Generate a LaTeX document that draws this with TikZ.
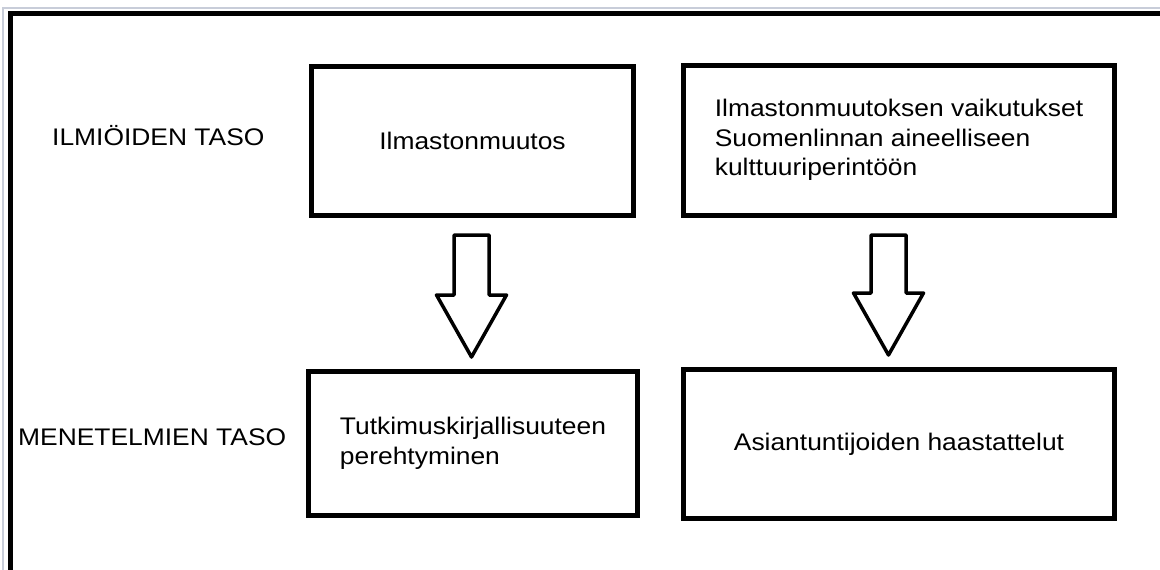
\documentclass[tikz,border=0pt]{standalone}
\usepackage{fontspec}
\setmainfont[FakeStretch=1.1]{Liberation Sans}
\usetikzlibrary{calc}
\definecolor{edge}{HTML}{c8cdd9}

% hollow block arrow from one box down to the next
\newcommand\hollowarrow[3]{%
  \coordinate (arrtop) at ($(#1.south)+(#3,17)$);
  \coordinate (arrtip) at ($(#2.north)+(0,-12)$);
  \draw[harr] ($(arrtop)+(-17.5,0)$) -- ($(arrtop)+(17.5,0)$)
    -- ($(arrtop |- arrtip)+(17.5,-62)$) -- ($(arrtop |- arrtip)+(35,-62)$)
    -- (arrtop |- arrtip) -- ($(arrtop |- arrtip)+(-35,-62)$)
    -- ($(arrtop |- arrtip)+(-17.5,-62)$) -- cycle;}

\begin{document}
\begin{tikzpicture}[
  x=1pt, y=-1pt,
  font=\fontsize{24}{29.5}\selectfont,
  blk/.style={draw, line width=5pt, align=left, inner sep=0},
  lvl/.style={anchor=base west, inner sep=0},
  harr/.style={draw, line width=3.5pt, line join=round}
]
  \path[use as bounding box, fill=white] (0,0) rectangle (1160,570);
  \draw[edge, line width=1.5pt] (3,580) -- (3,8) -- (1170,8);
  \draw[line width=5.5pt] (10.5,580) -- (10.5,13.5) -- (1170,13.5);

  \node[lvl] (ilmlbl) at (52,145) {ILMIÖIDEN TASO};
  \node[lvl] (menlbl) at (18,445) {MENETELMIEN TASO};

  \node[blk, minimum width=322pt, minimum height=149pt] (ilmasto) at (472.5,141) {Ilmastonmuutos};
  \node[blk, minimum width=431pt, minimum height=150.5pt] (vaikutus) at (899,140.25)
    {Ilmastonmuutoksen vaikutukset\\Suomenlinnan aineelliseen\\kulttuuriperintöön};
  \node[blk, minimum width=329pt, minimum height=144pt] (kirjall) at (473,443.5)
    {Tutkimuskirjallisuuteen\\perehtyminen};
  \node[blk, minimum width=431pt, minimum height=149pt] (haast) at (899,444)
    {Asiantuntijoiden haastattelut};

  \hollowarrow{ilmasto}{kirjall}{-1}
  \hollowarrow{vaikutus}{haast}{-10.5}
\end{tikzpicture}
\end{document}
